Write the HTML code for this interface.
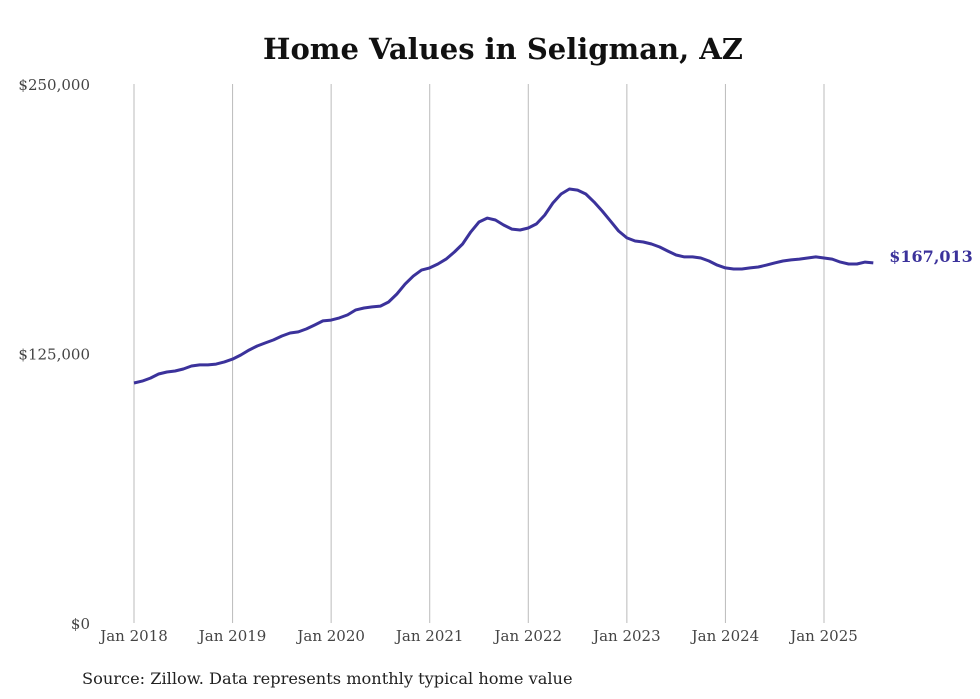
<!DOCTYPE html>
<html><head><meta charset="utf-8"><style>
body{margin:0;background:#fff;}
svg{display:block;font-family:"DejaVu Serif","Liberation Serif",serif;}
</style></head><body>
<svg id="chart" width="980" height="699">
<text x="503" y="59" text-anchor="middle" font-size="29" font-weight="bold" fill="#111">Home Values in Seligman, AZ</text>
<g id="grid"></g><g id="yaxis"></g><g id="xaxis"></g><g id="series"></g>
<text x="82" y="684" font-size="16.2" fill="#222">Source: Zillow. Data represents monthly typical home value</text>
</svg>
<script>
const xTicks=["Jan 2018","Jan 2019","Jan 2020","Jan 2021","Jan 2022","Jan 2023","Jan 2024","Jan 2025"];
const yTicks=[0,125000,250000];
const yTickLabels=["$0","$125,000","$250,000"];
const values=[111.3,112.2,113.6,115.5,116.4,116.9,117.8,119.2,119.7,119.7,120.1,121.1,
122.4,124.3,126.6,128.5,129.9,131.3,133.1,134.5,135.0,136.4,138.2,140.1,
140.5,141.5,142.9,145.2,146.1,146.6,147.0,148.9,152.6,157.2,160.9,163.7,
164.7,166.5,168.8,172.1,175.8,181.4,186.0,187.8,186.9,184.6,182.7,182.3,
183.2,185.1,189.2,194.8,199.0,201.3,200.8,199.0,195.3,191.1,186.5,181.8,
178.6,177.2,176.7,175.8,174.4,172.5,170.7,169.8,169.8,169.3,167.9,166.0,
164.7,164.2,164.2,164.7,165.1,166.0,167.0,167.9,168.4,168.8,169.3,169.8,
169.3,168.8,167.4,166.5,166.5,167.4,167.013];
const lastLabel="$167,013";
const NS="http://www.w3.org/2000/svg";
const x=i=>134+i*(690/84);
const y=v=>623-v*(539/250000);
function mk(t,a,p){const e=document.createElementNS(NS,t);for(const k in a)e.setAttribute(k,a[k]);document.getElementById(p).appendChild(e);return e;}
xTicks.forEach((t,k)=>{
 const l=mk("line",{x1:x(k*12),x2:x(k*12),y1:84,y2:623,stroke:"#bbb","stroke-width":1},"grid");
 
 
 const tx=mk("text",{x:x(k*12),y:641,"text-anchor":"middle","font-size":15,fill:"#444"},"xaxis");
 tx.textContent=t;
 
 
});
yTicks.forEach((v,k)=>{
 const tx=mk("text",{x:90,y:y(v)+6,"text-anchor":"end","font-size":15,fill:"#444"},"yaxis");
 tx.textContent=yTickLabels[k];
 
 
});
const d=values.map((v,i)=>(i?"L":"M")+x(i).toFixed(1)+","+y(v*1000).toFixed(1)).join("");
const p=mk("path",{d:d,fill:"none",stroke:"#3b329b","stroke-width":3,"stroke-linejoin":"round"},"series");


const li=values.length-1;
const lt=mk("text",{x:x(li)+16,y:y(values[li]*1000)-1,"font-size":16,"font-weight":"bold",fill:"#3b329b"},"series");
lt.textContent=lastLabel;


</script>
</body></html>
